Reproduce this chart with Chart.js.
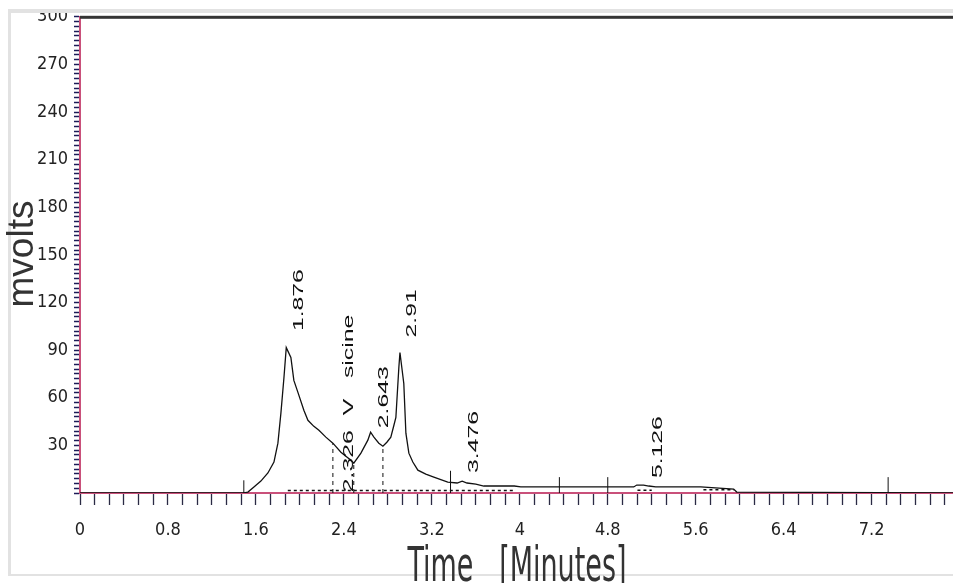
<!DOCTYPE html>
<html>
<head>
<meta charset="utf-8">
<script src="https://cdn.jsdelivr.net/npm/chart.js@4.4.1/dist/chart.umd.min.js"></script>
<style>
  html, body { margin: 0; padding: 0; background: #fff; overflow: hidden; }
</style>
</head>
<body>
<canvas id="chart" width="953" height="583"></canvas>
<script>
// chromatogram trace (minutes / mV)
const timeMin = [0, 1.49, 1.527, 1.582, 1.645, 1.709, 1.764, 1.80, 1.827, 1.855, 1.876, 1.918, 1.945, 1.982,
    2.036, 2.073, 2.127, 2.173, 2.236, 2.30, 2.373, 2.464, 2.49, 2.555, 2.618, 2.643, 2.673, 2.718, 2.755,
    2.791, 2.827, 2.855, 2.873, 2.90, 2.91, 2.945, 2.964, 2.991, 3.027, 3.073, 3.145, 3.218, 3.345, 3.43,
    3.476, 3.52, 3.60, 3.673, 3.827, 3.95, 4.009, 4.373, 4.736, 5.036, 5.064, 5.126, 5.173, 5.236, 5.645,
    5.945, 5.973, 7.94];
const mvolts = [0, 0, 0.6, 3.8, 7.5, 12.6, 19.5, 31.4, 50.2, 72.8, 91.6, 85.4, 70.9, 63.4,
    52.1, 45.8, 42, 39.5, 35.2, 31.4, 25.7, 20.7, 18.8, 25.1, 33.3, 38.3, 35.2, 31.4, 29.5,
    32, 35.2, 42.7, 47.7, 79.1, 88.5, 69, 37.7, 25.1, 19.5, 14.4, 11.9, 10, 6.9, 6.3,
    7.5, 6.3, 5.6, 4.4, 4.4, 4.4, 3.8, 3.8, 3.8, 3.8, 5, 5, 4.4, 3.8, 3.8,
    2.5, 0.6, 0];

// peak drop lines (dashed) and event marks (solid)
const dropTimes = [2.30, 2.49, 2.755];
const dropHeights = [31.4, 18.8, 29.5];
const eventTimes = [1.49, 3.37, 4.36, 4.80, 7.35];
const eventHeights = [8, 14, 10, 10, 10];

// integration baselines
const baseStart = [1.89, 5.07, 5.67];
const baseEnd = [3.95, 5.20, 5.95];
const baseLevel = [1.5, 1.8, 2.0];

// peak labels
const labelText = ["1.876", "2.326", "V   sicine", "2.643", "2.91", "3.476", "5.126"];
const labelTime = [1.99, 2.445, 2.445, 2.764, 3.02, 3.58, 5.255];
const labelBase = [102, 0.5, 49, 40.8, 98, 12.6, 9.4];

// axis ticks
const xTickLabels = ["0", "0.8", "1.6", "2.4", "3.2", "4", "4.8", "5.6", "6.4", "7.2"];
const xMinorPerLabel = 6;
const xMax = 7.94;
const yMax = 300;

const NARROW = "'Liberation Sans Narrow', 'Arial Narrow', 'DejaVu Sans Condensed', sans-serif";
const SANS = "'Liberation Sans', Arial, sans-serif";
const AXIS_PINK = "#c9507a";

function segments(times, heights) {
    const pts = [];
    times.forEach((t, i) => {
        pts.push({ x: t, y: 0 });
        pts.push({ x: t, y: heights[i] });
        pts.push({ x: t, y: null });
    });
    return pts;
}

const baselinePts = [];
baseStart.forEach((s, i) => {
    baselinePts.push({ x: s, y: baseLevel[i] });
    baselinePts.push({ x: baseEnd[i], y: baseLevel[i] });
    baselinePts.push({ x: baseEnd[i], y: null });
});

const decorPlugin = {
    id: "decor",
    beforeDraw(chart) {
        const ctx = chart.ctx;
        ctx.save();
        ctx.fillStyle = "#fff";
        ctx.fillRect(0, 0, chart.width, chart.height);
        // light frame
        ctx.fillStyle = "#e2e2e2";
        ctx.fillRect(8, 10, 3, 566);
        ctx.fillRect(8, 574, chart.width - 8, 2);
        ctx.restore();
    },
    afterDraw(chart) {
        const ctx = chart.ctx;
        const area = chart.chartArea;
        const xs = chart.scales.x, ys = chart.scales.y;
        ctx.save();
        // top of the frame clips the first y label like in the print
        ctx.fillStyle = "#fff";
        ctx.fillRect(11, 0, chart.width, 9);
        ctx.fillStyle = "#e2e2e2";
        ctx.fillRect(8, 9, chart.width - 8, 4);
        // dark top border
        ctx.fillStyle = "#333";
        ctx.fillRect(area.left, area.top - 1, chart.width - area.left, 3);

        // peak labels, rotated and stretched like the original print
        ctx.fillStyle = "#111";
        ctx.font = "15px " + SANS;
        ctx.textAlign = "left";
        ctx.textBaseline = "middle";
        labelText.forEach((txt, i) => {
            ctx.save();
            ctx.translate(xs.getPixelForValue(labelTime[i]), ys.getPixelForValue(labelBase[i]));
            ctx.rotate(-Math.PI / 2);
            ctx.scale(1.65, 1);
            ctx.fillText(txt, 0, 0);
            ctx.restore();
        });

        // y title
        ctx.save();
        ctx.fillStyle = "#333";
        ctx.font = "37px " + SANS;
        ctx.textAlign = "center";
        ctx.textBaseline = "middle";
        ctx.translate(23, 254);
        ctx.rotate(-Math.PI / 2);
        ctx.fillText("mvolts", 0, 0);
        ctx.restore();

        // x title
        ctx.save();
        ctx.fillStyle = "#333";
        ctx.font = "30px " + NARROW;
        ctx.textAlign = "center";
        ctx.textBaseline = "alphabetic";
        ctx.translate(517, 581);
        ctx.scale(1, 1.6);
        ctx.fillText("Time   [Minutes]", 0, 0);
        ctx.restore();
        ctx.restore();
    }
};

new Chart(document.getElementById("chart"), {
    type: "line",
    data: {
        datasets: [
            {
                label: "trace",
                data: timeMin.map((t, i) => ({ x: t, y: mvolts[i] })),
                borderColor: "#111",
                borderWidth: 1.3,
                pointRadius: 0,
                tension: 0,
                fill: false
            },
            {
                label: "baseline",
                data: baselinePts,
                borderColor: "#111",
                borderWidth: 1.5,
                borderDash: [3, 3],
                pointRadius: 0,
                spanGaps: false
            },
            {
                label: "drops",
                data: segments(dropTimes, dropHeights),
                borderColor: "#111",
                borderWidth: 1,
                borderDash: [4, 4],
                pointRadius: 0,
                spanGaps: false
            },
            {
                label: "events",
                data: segments(eventTimes, eventHeights),
                borderColor: "#111",
                borderWidth: 1,
                pointRadius: 0,
                spanGaps: false
            }
        ]
    },
    options: {
        responsive: false,
        animation: false,
        events: [],
        layout: { padding: { top: 15, right: 0, left: 0, bottom: 0 } },
        plugins: {
            legend: { display: false },
            tooltip: { enabled: false }
        },
        scales: {
            x: {
                type: "linear",
                min: 0,
                max: xMax,
                afterFit: s => { s.height = 90; s.paddingRight = 0; s.paddingLeft = 0; },
                afterBuildTicks: s => {
                    const step = 0.8 / xMinorPerLabel;
                    const ticks = [];
                    for (let i = 0; i * step <= xMax + 1e-9; i++) ticks.push({ value: i * step });
                    s.ticks = ticks;
                },
                ticks: {
                    autoSkip: false,
                    maxRotation: 0,
                    padding: 15,
                    color: "#222",
                    font: { family: NARROW, size: 18 },
                    callback: (v, i) => (i % xMinorPerLabel === 0 ? xTickLabels[i / xMinorPerLabel] : "")
                },
                grid: {
                    drawOnChartArea: false,
                    tickLength: 12,
                    tickWidth: 1.3,
                    tickColor: "#2a2a44"
                },
                border: { color: AXIS_PINK, width: 2 }
            },
            y: {
                min: 0,
                max: yMax,
                afterFit: s => { s.width = 80; },
                ticks: {
                    stepSize: 3,
                    autoSkip: false,
                    padding: 6,
                    color: "#222",
                    font: { family: NARROW, size: 18 },
                    callback: v => (v > 0 && v % 30 === 0 ? String(v) : "")
                },
                grid: {
                    drawOnChartArea: false,
                    tickLength: 6,
                    tickWidth: 1.5,
                    tickColor: "#1c1c58"
                },
                border: { color: AXIS_PINK, width: 2 }
            }
        }
    },
    plugins: [decorPlugin]
});
</script>
</body>
</html>
